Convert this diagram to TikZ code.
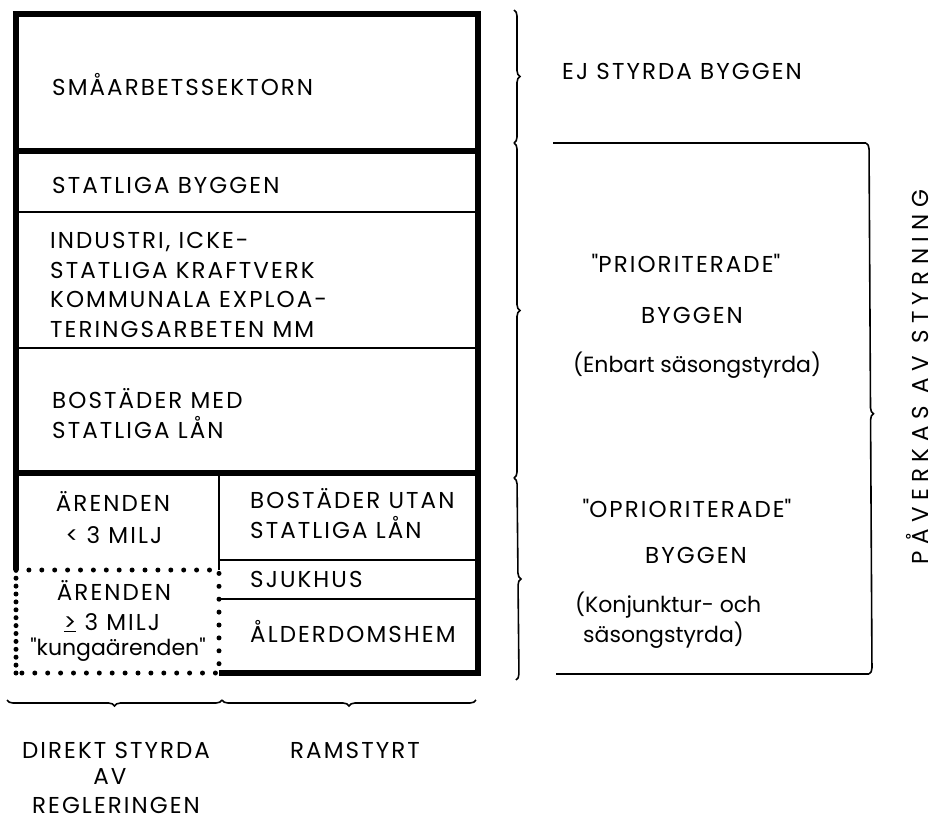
\documentclass[tikz,border=0pt]{standalone}
\usepackage{fontspec}
\setmainfont{Poppins}[LetterSpace=9]
\usepackage{tikz}
\usetikzlibrary{decorations.pathreplacing}
\def\heavyline{\draw[line width=6.5pt]}
\def\thinline{\draw[line width=2pt]}
\def\dotline{\draw[line width=5pt,line cap=round,dash pattern=on 0pt off 12.9pt]}
\def\bracedraw{\draw[line width=1.6pt,decorate,decoration={brace,amplitude=6pt}]}
\def\txt{\node[anchor=base west,inner sep=0pt]}
\def\ctxt{\node[anchor=base,inner sep=0pt]}
\def\lowtxt{\fontsize{22}{26}\selectfont\addfontfeature{LetterSpace=0}}
\def\qq{\textquotedbl}

\begin{document}
\begin{tikzpicture}[x=1pt,y=-1pt,font=\fontsize{23}{27}\selectfont]
\useasboundingbox (0,0) rectangle (936,824);
% frame of the building sectors
\heavyline (12.75,14) -- (481.25,14);
\heavyline (16,14) -- (16,570);
\heavyline (478,14) -- (478,676);
\heavyline (16,151) -- (478,151);
\heavyline (16,473) -- (478,473);
\heavyline (219,673) -- (481.25,673);
\thinline (16,212) -- (478,212);
\thinline (16,348) -- (478,348);
\thinline (219,473) -- (219,570);
\thinline (219,560) -- (478,560);
\thinline (219,599) -- (478,599);
\dotline (16,570) -- (219,570) -- (219,673) -- (16,673);
\dotline[dash pattern=on 0pt off 7.9pt] (16,673) -- (16,570);

\txt (smaa) at (52,96) {SMÅARBETSSEKTORN};
\txt (statl) at (52,193) {STATLIGA BYGGEN};
\txt (ind1) at (50,248) {INDUSTRI, ICKE-};
\txt (ind2) at (50,278) {STATLIGA KRAFTVERK};
\txt (ind3) at (50,307) {KOMMUNALA EXPLOA-};
\txt (ind4) at (50,337) {TERINGSARBETEN MM};
\txt (bmed1) at (52,408) {BOSTÄDER MED};
\txt (bmed2) at (52,438) {STATLIGA LÅN};
\ctxt (ar1) at (113,511) {ÄRENDEN};
\ctxt (ar2) at (114,543) {< 3 MILJ};
\ctxt (kung1) at (114,600) {ÄRENDEN};
\ctxt (kung2) at (112,630) {\underline{>} 3 MILJ};
\ctxt[font=\lowtxt] (kung3) at (118,655) {\qq kungaärenden\qq};
\txt (butan1) at (250,508) {BOSTÄDER UTAN};
\txt (butan2) at (250,538) {STATLIGA LÅN};
\txt (sjuk) at (250,587) {SJUKHUS};
\txt (alder) at (250,642) {ÅLDERDOMSHEM};

% braces on the right of the frame
\bracedraw (514,10) -- (514,143);
\bracedraw (514,143) -- (514,478);
\bracedraw (514,478) -- (516,680);
\txt (ejst) at (562,80) {EJ STYRDA BYGGEN};
\ctxt (prio) at (686,272) {\qq PRIORITERADE\qq};
\ctxt (prby) at (692,323) {BYGGEN};
\txt[font=\lowtxt] (enb) at (573,372) {(Enbart säsongstyrda)};
\ctxt (oprio) at (687,517) {\qq OPRIORITERADE\qq};
\ctxt (opby) at (696,563) {BYGGEN};
\txt[font=\lowtxt] (konj) at (575,612) {(Konjunktur- och};
\txt[font=\lowtxt] (sas) at (583,642) {säsongstyrda)};

% bracket for the steered part
\coordinate (bt) at (866,143);
\coordinate (bb) at (869,674);
\draw[line width=1.6pt] (553,143) -- (bt);
\draw[line width=1.6pt] (bb) -- (556,674);
\bracedraw[decoration={aspect=0.51}] (bt) -- (bb);
\node[rotate=90,anchor=base,inner sep=0pt,font=\fontsize{23}{27}\selectfont\addfontfeature{LetterSpace=28}] (pav) at (928,377) {PÅVERKAS AV STYRNING};

% braces below the frame
\bracedraw (222,700) -- (7,700);
\bracedraw (476,700) -- (222,700);
\ctxt (dir1) at (116,758) {DIREKT STYRDA};
\ctxt (dir2) at (110,784) {AV};
\ctxt (dir3) at (116,813) {REGLERINGEN};
\txt (ram) at (290,758) {RAMSTYRT};
\end{tikzpicture}
\end{document}
